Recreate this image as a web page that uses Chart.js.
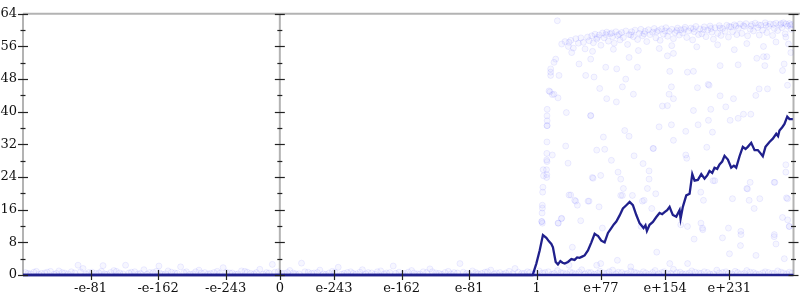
<!DOCTYPE html>
<html>
<head>
<meta charset="utf-8">
<script src="https://cdn.jsdelivr.net/npm/chart.js@4/dist/chart.umd.min.js"></script>
<style>
  html, body { margin: 0; padding: 0; background: #ffffff; }
  #c { display: block; }
</style>
</head>
<body>
<canvas id="c" width="800" height="300"></canvas>
<script>
// x positions are in "decade units": 0 = zero, 308 = 1, 616 = e+308, negatives mirrored
const xTickValues = [-227, -146, -65, 0, 65, 146, 227, 308, 385, 462, 539];
const xTickLabels = ['-e-81', '-e-162', '-e-243', '0', 'e-243', 'e-162', 'e-81', '1', 'e+77', 'e+154', 'e+231'];
const yTickValues = [0, 8, 16, 24, 32, 40, 48, 56, 64];

// main (dark) series
const lineU = [-308, 0, 303.2, 307.6, 311.6, 315.5, 319.6, 322.5, 325.6, 327.5, 330.8, 333.5, 336.4, 339, 341.6, 345.5, 349.6, 353.5, 356.5, 359.5, 362.5, 365.5, 369.5, 373.6, 377.5, 379.5, 381.5, 385.5, 389.5, 393.5, 397.5, 400.5, 403.5, 407.5, 411.4, 415.5, 419.5, 423.4, 427.5, 431.4, 436.2, 438.5, 440.2, 443.4, 447.4, 451.5, 455.4, 458.5, 461.4, 464.5, 467.4, 469.5, 471.3, 475.4, 479.4, 480.6, 483.3, 487.4, 491.4, 494.6, 497.4, 501.3, 505.4, 509.3, 512.5, 515.3, 518.5, 521.3, 524.5, 527.3, 530.5, 533.3, 537.3, 541.3, 544.5, 547.3, 551.3, 555.2, 558.5, 561.2, 565.3, 569.3, 573.2, 576.5, 579.2, 582.4, 587.2, 591.2, 595.3, 597.5, 599.2, 602.5, 605.2, 608.5, 611.2, 615.2];
const lineV = [0, 0, 0, 2.8, 6.0, 9.8, 9.1, 8.3, 7.6, 6.8, 3.2, 2.6, 3.4, 3.0, 2.8, 3.2, 3.9, 3.7, 4.3, 4.2, 4.5, 4.8, 6.0, 8.0, 10.1, 9.8, 9.6, 8.4, 8.0, 10.3, 11.5, 12.4, 13.1, 14.6, 16.3, 17.1, 17.9, 17.1, 14.7, 12.7, 11.5, 12.2, 10.8, 12.3, 13.0, 14.2, 15.2, 14.9, 15.4, 15.9, 16.7, 15.6, 14.7, 14.3, 15.9, 13.8, 16.7, 19.5, 19.9, 24.7, 23.1, 23.3, 24.7, 23.6, 24.4, 25.5, 25.0, 26.3, 26.0, 27.1, 27.8, 29.2, 28.3, 26.3, 26.8, 26.3, 29.1, 31.4, 30.9, 31.4, 32.4, 30.6, 30.6, 29.8, 29.1, 31.4, 32.6, 33.4, 34.6, 34.0, 35.4, 36.2, 37.0, 38.8, 38.2, 38.2];

// faint sample clouds [position, value]
const cloudLow = [[-305,0.6],[-299,0.3],[-292,0.9],[-286,0.4],[-279,0.7],[-271,0.2],[-265,1.0],[-258,0.5],[-250,0.8],[-242,2.4],[-236,1.6],[-229,0.6],[-221,0.4],[-214,0.9],[-212,2.3],[-207,0.2],[-199,1.1],[-192,0.5],[-185,2.4],[-178,0.7],[-170,0.3],[-163,1.3],[-156,0.6],[-148,0.9],[-145,2.2],[-141,0.2],[-134,1.0],[-126,0.5],[-119,2.0],[-112,0.8],[-104,0.3],[-97,1.2],[-90,0.6],[-83,0.4],[-75,0.9],[-68,1.8],[-60,0.5],[-53,0.2],[-46,1.0],[-39,0.7],[-31,0.3],[-24,1.4],[-16,0.6],[-9,2.6],[-2,0.8],[5,0.4],[12,1.1],[19,0.3],[26,2.9],[34,0.7],[41,0.5],[48,1.2],[55,0.2],[63,0.9],[70,1.9],[77,0.4],[85,0.8],[92,0.3],[99,1.3],[106,0.6],[114,0.2],[121,1.0],[128,0.5],[136,2.2],[143,0.7],[150,0.4],[158,1.1],[165,0.3],[172,0.8],[180,1.5],[187,0.5],[194,0.2],[202,0.9],[209,0.6],[216,2.8],[224,0.4],[231,1.0],[238,0.3],[246,0.7],[253,1.2],[260,0.5],[268,0.2],[275,0.9],[282,1.6],[290,0.4],[297,0.8],[304,0.3],[311,1.0],[318,0.6],[326,0.2],[333,1.1],[340,0.5],[346.8,2.4],[348,0.8],[355,0.3],[362,1.3],[370,0.6],[377,0.2],[380,2.4],[384,0.9],[392,0.4],[399,1.2],[406,0.7],[414,0.3],[421,1.0],[428,0.5],[436,0.8],[443,0.2],[450,1.1],[458,0.6],[465,0.4],[467.6,2.8],[472,1.4],[480,0.7],[487,0.3],[489,2.8],[494,1.0],[502,0.5],[509,0.8],[516,0.2],[524,1.2],[531,0.6],[538,0.4],[546,0.9],[553,0.3],[560,1.1],[568,0.6],[575,0.2],[582,0.8],[590,0.4],[597,1.0],[604,0.5],[611,0.7]];

const cloudLowExtra = [[-302,0.4],[-295,0.7],[-289,0.2],[-282,0.5],[-275,0.9],[-268,0.4],[-261,0.6],[-254,0.3],[-246,0.5],[-239,0.8],[-232,0.2],[-225,0.7],[-217,0.5],[-210,0.3],[-203,0.6],[-196,0.9],[-188,0.3],[-181,0.5],[-174,0.8],[-167,0.4],[-159,0.2],[-152,0.6],[-144,0.5],[-137,0.3],[-130,0.7],[-123,0.4],[-115,0.6],[-108,0.2],[-101,0.8],[-94,0.5],[-86,0.3],[-79,0.6],[-72,0.4],[-64,0.7],[-57,0.5],[-50,0.3],[-42,0.9],[-35,0.4],[-28,0.6],[-20,0.2],[-13,0.5],[-6,0.7],[2,0.4],[9,0.6],[16,0.5],[23,0.3],[30,0.8],[38,0.4],[45,0.6],[52,0.3],[59,0.5],[66,0.7],[74,0.2],[81,0.6],[88,0.4],[96,0.7],[103,0.3],[110,0.5],[117,0.8],[125,0.3],[132,0.6],[139,0.4],[147,0.2],[154,0.7],[161,0.5],[168,0.3],[176,0.6],[183,0.8],[191,0.4],[198,0.6],[205,0.3],[213,0.5],[220,0.7],[227,0.2],[235,0.6],[242,0.4],[249,0.8],[257,0.3],[264,0.6],[271,0.5],[279,0.3],[286,0.7],[293,0.4],[300,0.6],[308,0.3],[315,0.5],[322,0.8],[329,0.4],[337,0.6],[344,0.3],[351,0.5],[359,0.7],[366,0.3],[373,0.6],[381,0.4],[388,0.5],[395,0.8],[403,0.3],[410,0.6],[417,0.4],[425,0.7],[432,0.3],[439,0.5],[447,0.6],[454,0.3],[461,0.8],[469,0.4],[476,0.6],[483,0.3],[491,0.5],[498,0.7],[505,0.4],[513,0.6],[520,0.3],[527,0.5],[535,0.8],[542,0.3],[549,0.6],[557,0.4],[564,0.7],[571,0.3],[579,0.5],[586,0.6],[593,0.4],[601,0.7],[608,0.3],[614,0.5]];

const cloudHigh = [[332.8,62.3],[338,56.6],[342,57.2],[346,56.0],[346.8,57.0],[349,57.5],[352,55.6],[355,57.9],[358,56.8],[361,58.1],[364,57.0],[366,55.4],[369,58.3],[371,57.4],[374,58.6],[376,56.9],[378,59.0],[380,57.8],[383,58.8],[385,56.3],[387,59.3],[389,58.1],[392,59.5],[394,57.3],[396,59.1],[399,58.4],[401,56.8],[403,59.6],[405,58.7],[408,57.6],[410,59.4],[412,58.2],[415,59.8],[417,56.5],[419,58.9],[422,59.6],[424,58.4],[426,60.0],[429,57.7],[431,59.2],[433,60.2],[435,58.6],[438,59.7],[440,57.2],[442,60.1],[444,58.9],[447,59.5],[449,60.4],[451,58.1],[454,59.9],[456,57.5],[458,60.3],[460,59.0],[463,60.6],[465,58.5],[467,59.7],[470,60.2],[472,57.9],[474,59.4],[477,60.5],[479,58.8],[481,60.1],[483,59.3],[486,60.7],[488,58.2],[490,59.8],[493,60.5],[495,57.6],[497,59.6],[499,60.9],[502,58.9],[504,60.3],[506,59.1],[509,60.8],[511,58.4],[513,60.0],[516,61.0],[518,59.5],[520,57.8],[522,60.6],[525,59.2],[527,61.1],[529,58.7],[531,60.4],[534,59.7],[536,61.2],[538,58.3],[541,60.8],[543,59.6],[545,61.3],[548,58.9],[550,60.5],[552,61.5],[554,59.2],[557,60.9],[559,61.6],[561,58.6],[564,60.2],[566,61.4],[568,59.8],[570,61.7],[573,60.6],[575,58.8],[577,61.2],[579,60.0],[582,61.8],[584,59.4],[586,60.9],[588,61.5],[591,58.7],[593,60.4],[595,61.7],[597,59.9],[600,61.3],[602,60.6],[604,61.8],[606,59.1],[609,61.0],[611,61.6],[613,60.2],[614,61.4],[350,54.5],[375,54.8],[400,55.3],[430,55.0],[455,55.5],[470,56.2],[500,55.9],[525,56.4],[545,55.2],[560,56.7],[580,56.0],[595,57.1],[610,56.6],[606.8,58.3],[381,58.2],[391,58.9],[398,59.3],[407,59.0],[421,58.8],[437,59.1],[452,59.6],[462,59.8],[476,59.9],[485,60.2],[496,60.3],[508,60.1],[517,60.4],[528,60.5],[539,60.9],[547,61.0],[556,61.1],[565,61.0],[574,61.3],[583,61.2],[592,61.4],[601,61.6],[607,61.5],[612,61.2]];

const cloudMid = [[324,44.9],[328.8,44.3],[333.6,43.4],[383.6,45.7],[392,43.2],[403.6,42.4],[410.8,46.1],[424,44.3],[466.8,44.3],[472,43.2],[469.6,46.1],[500.8,45.9],[514.8,46.5],[528,43.9],[544,43.2],[534.8,41.2],[516.8,40.6],[496,40.3],[458.8,41.4],[464.8,41.5],[372.8,39.1],[343.6,39.8],[342.8,31.6],[380,30.6],[388,33.8],[413.6,35.4],[418.8,34],[454.8,36.3],[469.6,36.8],[472,33],[486.8,35.2],[501.6,36.8],[514,37.9],[518.8,35],[512,31.3],[540,37.9],[549.6,38.4],[556,39.4],[564.8,39.4],[574.8,45.6],[584.8,45.6],[570.8,44],[608.8,46.5],[606.8,27],[606.8,25.2],[607.6,18.9],[593.6,22.7],[564,22.7],[560,21.2],[542.8,18.7],[521.6,23.1],[504.8,20.3],[508,18.3],[486.8,29.4],[488,28.6],[448,31],[424.8,29.2],[435.6,27.3],[405.6,25.2],[397.6,28.1],[375.6,23.7],[384.8,24.4],[345.6,27.4],[348.8,19.6],[353.6,18.3],[369.6,18.1],[412,21.2],[434.8,18.1],[440.8,21.2],[410.8,19.5],[442.8,25.5],[436.8,18.3],[450.8,19.9],[488.8,11.9],[506.8,11.5],[530.8,9.1],[538,11.5],[552.8,10.7],[568.8,16.3],[575.6,18.7],[592.8,22.7],[602.8,14.1],[608.8,18.7],[610.8,11.9],[592.8,9.4],[562.8,18.3],[560.8,21.1],[519.6,23.1],[480.8,12.3],[496.8,8.8],[374.8,23.9],[346.8,19.6],[354.8,18.1],[360.8,13.3],[333.6,12.7],[337.6,13.8],[382.8,16.7],[386.8,11.5],[370.8,18.1],[350.8,6.8],[408.8,19.5],[422.8,19.5],[404.8,3.6],[420.8,2.0],[384.8,2.8],[408.8,23.5],[442.8,23.5],[358.8,51.7],[366.8,48.9],[376.8,48.5],[372.8,52.9],[390.8,50.9],[404,50.5],[414.8,48],[418.8,53.3],[428.8,50.9],[464.8,53.7],[472,54.3],[467.6,49.9],[488.8,49.7],[496,49.9],[513.6,46.7],[528,51.3],[549.6,51.5],[572,53.1],[580,53.5],[584,53.5],[581.6,51.3],[604.8,51.7],[602.8,50.1],[612.8,54.5],[326.8,44.2],[326.8,29.4],[372.8,39],[389.6,30.8],[447.6,31],[433.2,11.9],[505,12.7],[507.2,11.1],[553,9.9],[552.4,7.2],[539.2,5.2],[571,4.8],[593,9.9],[595,7.6],[611,11.9],[609,13.5],[605,4.0],[446,16.3],[452,5.6],[356.8,17.1],[338,13.9],[334,12.7]];

const cloudColumn = [[324.8,50.5],[324.8,49.7],[324.8,48.9],[328.8,52.1],[330.8,52.9],[334.8,48.9],[322.8,45.1],[320.6,40.6],[320.4,39.0],[320.6,37.8],[320.5,36.6],[320.5,36.6],[320.3,32.6],[320.2,29.8],[320.0,28.2],[320.4,27.8],[319.8,25.8],[320.1,24.6],[320.0,23.9],[315.8,25.8],[316.2,24.3],[315.5,21.5],[315.2,20.3],[314.8,17.1],[314.2,13.1],[314.0,13.1],[314.8,12.7],[314.5,15.2],[314.9,16.4]];

const navy = '#20208c';
const toPts = arr => arr.map(p => ({ x: p[0], y: p[1] }));
const linePts = lineU.map((u, i) => ({ x: u, y: lineV[i] }));

const cloudStyle = {
  type: 'scatter',
  pointRadius: 3,
  pointHoverRadius: 3,
  pointBackgroundColor: 'rgba(0,0,255,0.035)',
  pointBorderColor: 'rgba(0,0,255,0.07)',
  pointBorderWidth: 1,
  showLine: false,
  clip: 0
};

const framePlugin = {
  id: 'frame',
  beforeDatasetsDraw(chart) {
    const { ctx, chartArea: a, scales } = chart;
    const x0 = scales.x.getPixelForValue(0);
    ctx.save();
    ctx.strokeStyle = '#b3b3b3';
    ctx.lineWidth = 2;
    ctx.beginPath();
    ctx.moveTo(a.left, a.top);
    ctx.lineTo(chart.width, a.top);
    ctx.stroke();
    [a.left, x0, a.right].forEach(px => {
      ctx.beginPath();
      ctx.moveTo(px, a.top);
      ctx.lineTo(px, a.bottom);
      ctx.stroke();
    });
    ctx.restore();
  },
  afterDatasetsDraw(chart) {
    const { ctx, chartArea: a, scales } = chart;
    const x0 = scales.x.getPixelForValue(0);
    ctx.save();
    ctx.strokeStyle = navy;
    ctx.lineWidth = 2.5;
    ctx.beginPath();
    ctx.moveTo(a.left, a.bottom);
    ctx.lineTo(a.right, a.bottom);
    ctx.stroke();
    ctx.strokeStyle = '#222';
    ctx.lineWidth = 1.2;
    [a.left, x0, a.right].forEach(px => {
      for (let v = 0; v <= 64; v += 4) {
        const py = Math.round(scales.y.getPixelForValue(v)) + 0.5;
        const len = (v % 8 === 0) ? 5 : 2.5;
        ctx.beginPath();
        ctx.moveTo(px - len, py);
        ctx.lineTo(px + len, py);
        ctx.stroke();
      }
    });
    xTickValues.forEach(v => {
      const px = Math.round(scales.x.getPixelForValue(v)) + 0.5;
      ctx.beginPath();
      ctx.moveTo(px, a.bottom - 5);
      ctx.lineTo(px, a.bottom + 5);
      ctx.stroke();
    });
    ctx.restore();
  }
};

const font = { family: 'DejaVu Serif', size: 13 };

new Chart(document.getElementById('c'), {
  type: 'scatter',
  data: {
    datasets: [
      Object.assign({ label: 'low', data: toPts(cloudLow) }, cloudStyle),
      Object.assign({ label: 'low2', data: toPts(cloudLowExtra) }, cloudStyle),
      Object.assign({ label: 'high', data: toPts(cloudHigh) }, cloudStyle),
      Object.assign({ label: 'mid', data: toPts(cloudMid) }, cloudStyle),
      Object.assign({ label: 'column', data: toPts(cloudColumn) }, cloudStyle),
      {
        type: 'line',
        label: 'main',
        data: linePts,
        borderColor: navy,
        borderWidth: 2.3,
        pointRadius: 0,
        tension: 0,
        fill: false,
        clip: { left: 0, right: 0, top: 0, bottom: 3 }
      }
    ]
  },
  options: {
    responsive: false,
    animation: false,
    events: [],
    layout: { padding: { top: 7.5, right: 6.5, left: 0, bottom: 0 } },
    plugins: { legend: { display: false }, tooltip: { enabled: false } },
    scales: {
      x: {
        type: 'linear',
        min: -308,
        max: 616,
        grid: { display: false, drawTicks: false },
        border: { display: false },
        afterBuildTicks: s => { s.ticks = xTickValues.map(v => ({ value: v })); },
        afterFit: s => { s.height = 25; },
        ticks: {
          font: font,
          color: '#111',
          padding: 6,
          maxRotation: 0,
          autoSkip: false,
          callback: (value, index) => xTickLabels[index]
        }
      },
      y: {
        type: 'linear',
        min: 0,
        max: 64,
        grid: { display: false, drawTicks: false },
        border: { display: false },
        afterBuildTicks: s => { s.ticks = yTickValues.map(v => ({ value: v })); },
        afterFit: s => { s.width = 23; },
        ticks: {
          font: font,
          color: '#111',
          padding: 6,
          callback: v => String(v)
        }
      }
    }
  },
  plugins: [framePlugin]
});
</script>
</body>
</html>
